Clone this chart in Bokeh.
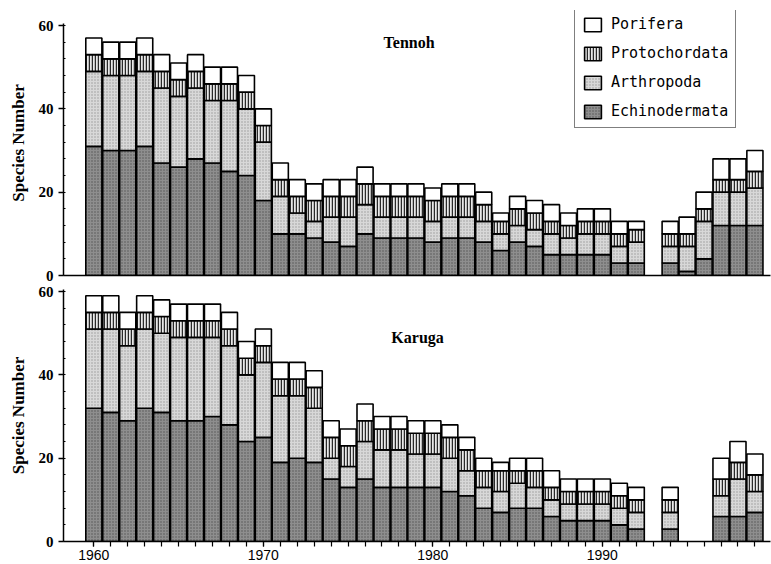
import numpy as np
from bokeh.plotting import figure
from bokeh.models import ColumnDataSource, Range1d, FixedTicker, Legend, LegendItem, Label
from bokeh.layouts import column
from bokeh.embed import file_html
from bokeh.resources import INLINE

taxa = ["Echinodermata", "Arthropoda", "Protochordata", "Porifera"]

# ---- Tennoh (top panel) ----
tennoh_years = list(range(1960, 1993)) + list(range(1994, 2000))
tennoh_echinodermata = [31, 30, 30, 31, 27, 26, 28, 27, 25, 24, 18, 10, 10, 9, 8, 7, 10, 9, 9, 9,
                        8, 9, 9, 8, 6, 8, 7, 5, 5, 5, 5, 3, 3, 3, 1, 4, 12, 12, 12]
tennoh_arthropoda = [18, 18, 18, 18, 18, 17, 17, 15, 17, 16, 14, 9, 5, 4, 6, 7, 7, 5, 5, 5,
                     5, 5, 5, 5, 4, 4, 4, 5, 4, 5, 5, 4, 5, 4, 6, 9, 8, 8, 9]
tennoh_protochordata = [4, 4, 4, 4, 4, 4, 4, 4, 4, 4, 4, 4, 4, 5, 5, 5, 5, 5, 5, 5,
                        5, 5, 5, 4, 3, 4, 4, 3, 3, 3, 3, 3, 3, 3, 3, 3, 3, 3, 4]
tennoh_porifera = [4, 4, 4, 4, 4, 4, 4, 4, 4, 4, 4, 4, 4, 4, 4, 4, 4, 3, 3, 3,
                   3, 3, 3, 3, 2, 3, 3, 4, 3, 3, 3, 3, 2, 3, 4, 4, 5, 5, 5]

# ---- Karuga (bottom panel) ----
karuga_years = list(range(1960, 1993)) + [1994, 1997, 1998, 1999]
karuga_echinodermata = [32, 31, 29, 32, 31, 29, 29, 30, 28, 24, 25, 19, 20, 19, 15, 13, 15, 13, 13, 13,
                        13, 12, 11, 8, 7, 8, 8, 6, 5, 5, 5, 4, 3, 3, 6, 6, 7]
karuga_arthropoda = [19, 20, 18, 19, 19, 20, 20, 19, 19, 16, 18, 16, 15, 13, 5, 5, 9, 9, 9, 8,
                     8, 8, 6, 5, 5, 6, 5, 4, 4, 4, 4, 4, 4, 4, 5, 9, 5]
karuga_protochordata = [4, 4, 4, 4, 4, 4, 4, 4, 4, 4, 4, 4, 4, 5, 5, 5, 5, 5, 5, 5,
                        5, 5, 5, 4, 5, 3, 4, 3, 3, 3, 3, 3, 3, 3, 4, 4, 4]
karuga_porifera = [4, 4, 4, 4, 4, 4, 4, 4, 4, 4, 4, 4, 4, 4, 4, 4, 4, 3, 3, 3,
                   3, 3, 3, 3, 2, 3, 3, 4, 3, 3, 3, 3, 3, 3, 5, 5, 5]

x_tick_labels = [1960, 1970, 1980, 1990]
y_ticks = [0, 20, 40, 60]

styles = {
    "Echinodermata": dict(fill_color="#8e8e8e", hatch_pattern=".", hatch_color="#555555",
                          hatch_scale=3, hatch_weight=1),
    "Arthropoda": dict(fill_color="#d8d8d8", hatch_pattern=".", hatch_color="#999999",
                       hatch_scale=3, hatch_weight=1),
    "Protochordata": dict(fill_color="#e8e8e8", hatch_pattern="|", hatch_color="#2a2a2a",
                          hatch_scale=3, hatch_weight=1.5),
    "Porifera": dict(fill_color="#ffffff"),
}

SERIF = "Liberation Serif"


def make_panel(years, data, height, top_border, bottom_border, y_top, title, tx, ty, show_x):
    p = figure(width=771, height=height, x_range=Range1d(1958.21, 1999.92),
               y_range=Range1d(0, y_top), output_backend="svg", toolbar_location=None,
               min_border_left=63, min_border_right=1, min_border_top=top_border,
               min_border_bottom=bottom_border)
    p.outline_line_color = None
    p.grid.visible = False
    p.background_fill_color = "white"
    bottoms = np.zeros(len(years))
    rends = {}
    for t in taxa:
        vals = np.array(data[t], dtype=float)
        src = ColumnDataSource(dict(x=years, bottom=bottoms.copy(), top=bottoms + vals))
        rends[t] = p.vbar(x="x", bottom="bottom", top="top", width=0.95, source=src,
                          line_color="black", line_width=1.6, **styles[t])
        bottoms = bottoms + vals

    ya = p.yaxis[0]
    ya.bounds = (0, 60.5)
    ya.ticker = FixedTicker(ticks=y_ticks, minor_ticks=list(range(0, 61, 4)))
    ya.major_label_text_font = SERIF
    ya.major_label_text_font_style = "bold"
    ya.major_label_text_font_size = "15px"
    ya.major_label_text_color = "black"
    ya.major_label_standoff = 5
    ya.axis_label = "Species Number"
    ya.axis_label_text_font = SERIF
    ya.axis_label_text_font_style = "bold"
    ya.axis_label_text_font_size = "17px"
    ya.axis_label_text_color = "black"
    ya.axis_label_standoff = 8
    ya.major_tick_out = 5
    ya.major_tick_in = 0
    ya.minor_tick_in = 2
    ya.minor_tick_out = 0
    ya.axis_line_width = 1.5
    ya.major_tick_line_width = 1.5
    ya.axis_line_color = "black"

    xa = p.xaxis[0]
    xa.axis_line_width = 1.5
    xa.axis_line_color = "black"
    if show_x:
        xa.ticker = FixedTicker(ticks=x_tick_labels, minor_ticks=list(range(1960, 2000)))
        xa.major_label_text_font = "Liberation Sans"
        xa.major_label_text_font_size = "14px"
        xa.major_label_text_color = "black"
        xa.major_label_standoff = 3
        xa.major_tick_out = 5
        xa.major_tick_in = 0
        xa.minor_tick_out = 5
        xa.minor_tick_in = 0
        xa.major_tick_line_width = 1.2
        xa.minor_tick_line_width = 1.2
        xa.minor_tick_line_color = "black"
    else:
        xa.ticker = FixedTicker(ticks=[], minor_ticks=[])
        xa.major_label_text_font_size = "0px"
        xa.major_label_standoff = 0
        xa.major_tick_out = 0
        xa.minor_tick_out = 0

    p.add_layout(Label(x=tx, y=ty, text=title, text_font=SERIF, text_font_style="bold",
                       text_font_size="16px", text_align="center",
                       text_baseline="alphabetic", text_color="black"))
    return p, rends


tennoh = dict(Echinodermata=tennoh_echinodermata, Arthropoda=tennoh_arthropoda,
              Protochordata=tennoh_protochordata, Porifera=tennoh_porifera)
karuga = dict(Echinodermata=karuga_echinodermata, Arthropoda=karuga_arthropoda,
              Protochordata=karuga_protochordata, Porifera=karuga_porifera)

# top frame spans 10..275 px (extra headroom above 60 for the legend)
p1, r1 = make_panel(tennoh_years, tennoh, 283, 10, 8, 63.6, "Tennoh", 1978.6, 55.9, False)
p2, r2 = make_panel(karuga_years, karuga, 281, 6, 23, 60.5, "Karuga", 1979.1, 49.0, True)

legend = Legend(items=[LegendItem(label=t, renderers=[r1[t]]) for t in reversed(taxa)],
                location=(511, 147))
legend.border_line_color = "black"
legend.border_line_width = 1
legend.background_fill_color = "white"
legend.background_fill_alpha = 1
legend.label_text_font = "DejaVu Sans Mono"
legend.label_text_font_size = "15px"
legend.label_text_color = "black"
legend.glyph_width = 21
legend.glyph_height = 17
legend.label_height = 16
legend.spacing = 11
legend.padding = 7
legend.margin = 0
legend.label_standoff = 8
p1.add_layout(legend, "center")

layout = column(p1, p2)
open("out.html", "w").write(file_html(layout, INLINE))
